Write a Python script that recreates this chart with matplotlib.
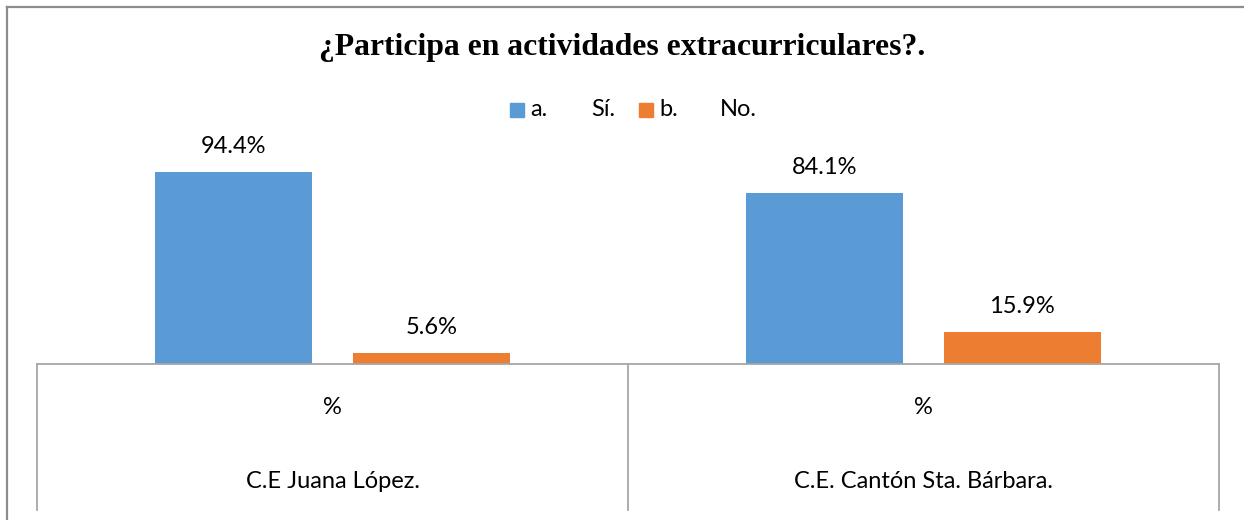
import matplotlib.pyplot as plt
from matplotlib.lines import Line2D
from matplotlib.patches import Rectangle
import matplotlib.transforms as mtransforms
import numpy as np

# data
schools = ["C.E Juana López.", "C.E. Cantón Sta. Bárbara."]
sub_labels = ["%", "%"]
series_names = ["a.\tSí.", "b.\tNo."]
si_values = [94.4, 84.1]
no_values = [5.6, 15.9]

blue = "#5B9BD5"
orange = "#ED7D31"
axis_grey = "#a6a6a6"
label_font = "Lato"
fs = 17

W, H = 1244, 520
fig = plt.figure(figsize=(W / 100, H / 100), dpi=100)
ax = fig.add_axes([37 / W, 156 / H, 1182 / W, 203.4 / H])

x = np.arange(len(schools))
width = 0.266
off = 0.167
bars1 = ax.bar(x - off, si_values, width, color=blue)
bars2 = ax.bar(x + off, no_values, width, color=orange)

for bars in (bars1, bars2):
    for b in bars:
        v = b.get_height()
        ax.annotate(f"{v:.1f}%", (b.get_x() + b.get_width() / 2, v),
                    xytext=(0, 18), textcoords="offset points",
                    ha="center", va="center", fontsize=fs,
                    family=label_font, color="#000000")

ax.set_xlim(-0.5, len(schools) - 0.5)
ax.set_ylim(0, 100)
ax.set_xticks([])
ax.set_yticks([])
for s in ("left", "right", "top"):
    ax.spines[s].set_visible(False)
ax.spines["bottom"].set_color(axis_grey)
ax.spines["bottom"].set_linewidth(1.3)

# multi-level category axis
trans = mtransforms.blended_transform_factory(ax.transData, ax.transAxes)
bottom = -146 / 203.4
for xv in np.arange(len(schools) + 1) - 0.5:
    ax.add_line(Line2D([xv, xv], [0, bottom], transform=trans, color=axis_grey,
                       lw=1.3, clip_on=False))
for i, (sub, name) in enumerate(zip(sub_labels, schools)):
    ax.text(i, -44 / 203.4, sub, transform=trans, ha="center", va="center",
            fontsize=fs, family=label_font)
    ax.text(i, -117 / 203.4, name, transform=trans, ha="center", va="center",
            fontsize=fs, family=label_font)

# title
fig.text(0.5, 1 - 48 / H, "¿Participa en actividades extracurriculares?.",
         ha="center", va="center", fontsize=22.8, fontweight="bold",
         family="Liberation Serif")

# legend (drawn by hand to match spacing)
leg_y = 1 - 110 / H
for name, color, sq_x, word_x in zip(series_names, [blue, orange], [510, 639], [591, 720]):
    letter, word = name.split("\t")
    fig.add_artist(Rectangle((sq_x / W, leg_y - 7 / H), 14 / W, 14 / H,
                             transform=fig.transFigure, color=color))
    fig.text((sq_x + 20) / W, leg_y, letter, ha="left", va="center",
             fontsize=fs, family=label_font)
    fig.text(word_x / W, leg_y, word, ha="left", va="center",
             fontsize=fs, family=label_font)

# outer frame
fig.add_artist(Line2D([6.5 / W, 6.5 / W], [0, 1 - 6.5 / H],
                      transform=fig.transFigure, color="#8c8c8c", lw=1.6))
fig.add_artist(Line2D([6.5 / W, 1], [1 - 6.5 / H, 1 - 6.5 / H],
                      transform=fig.transFigure, color="#8c8c8c", lw=1.6))

fig.savefig("out.png", dpi=100)
